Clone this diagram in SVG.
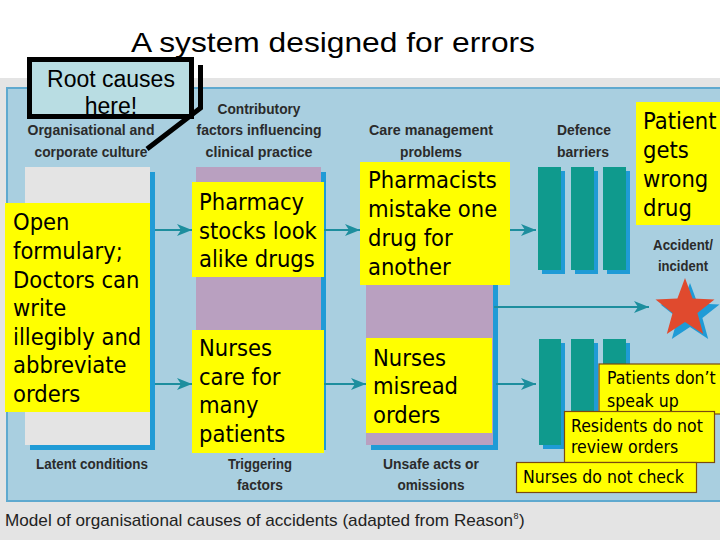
<svg xmlns="http://www.w3.org/2000/svg" width="720" height="540" viewBox="0 0 720 540">
<style>
.hdr{font-family:"Liberation Sans",Arial,sans-serif;font-weight:bold;font-size:14.5px;fill:#2b2b2b;text-anchor:middle}
.yl{fill:#ffff00}
.yt{font-family:"DejaVu Sans Condensed","DejaVu Sans",sans-serif;font-stretch:condensed;font-size:23.5px;fill:#000}
.st{font-family:"DejaVu Sans Condensed","DejaVu Sans",sans-serif;font-stretch:condensed;font-size:17.5px;fill:#000}
.sb{fill:#ffff00;stroke:#7a4a10;stroke-width:1.2}
.shadow{fill:#1f9bd6}
.bar{fill:#0f9a8d}
.conn{stroke:#1d8e9e;stroke-width:2;fill:none;marker-end:url(#ah)}
</style>
<defs>
<marker id="ah" markerUnits="userSpaceOnUse" markerWidth="16" markerHeight="12" refX="15" refY="6" orient="auto">
<path d="M0,0 L15,6 L0,12 L4,6 z" fill="#1d8e9e"/>
</marker>
</defs>
<rect x="0" y="0" width="720" height="540" fill="#ffffff"/>
<rect x="0" y="78" width="720" height="462" fill="#e4e4e4"/>
<rect x="7" y="88" width="716" height="413" fill="#a9cfe0" stroke="#5fa9cf" stroke-width="2"/>
<text x="131" y="52" font-family="Liberation Sans,Arial,sans-serif" font-size="28" textLength="404" lengthAdjust="spacingAndGlyphs" fill="#000">A system designed for errors</text>
<g id="headers">
<text class="hdr" x="91" y="135" textLength="127" lengthAdjust="spacingAndGlyphs">Organisational and</text>
<text class="hdr" x="91" y="157" textLength="113" lengthAdjust="spacingAndGlyphs">corporate culture</text>
<text class="hdr" x="259" y="114" textLength="83" lengthAdjust="spacingAndGlyphs">Contributory</text>
<text class="hdr" x="259" y="135" textLength="125" lengthAdjust="spacingAndGlyphs">factors influencing</text>
<text class="hdr" x="259" y="157" textLength="107" lengthAdjust="spacingAndGlyphs">clinical practice</text>
<text class="hdr" x="431" y="135" textLength="124" lengthAdjust="spacingAndGlyphs">Care management</text>
<text class="hdr" x="431" y="157" textLength="62" lengthAdjust="spacingAndGlyphs">problems</text>
<text class="hdr" x="584" y="135" textLength="54" lengthAdjust="spacingAndGlyphs">Defence</text>
<text class="hdr" x="583" y="157" textLength="52" lengthAdjust="spacingAndGlyphs">barriers</text>
<text class="hdr" x="683" y="250" textLength="60" lengthAdjust="spacingAndGlyphs">Accident/</text>
<text class="hdr" x="683" y="271" textLength="50" lengthAdjust="spacingAndGlyphs">incident</text>
<text class="hdr" x="92" y="469" textLength="112" lengthAdjust="spacingAndGlyphs">Latent conditions</text>
<text class="hdr" x="260" y="469" textLength="64" lengthAdjust="spacingAndGlyphs">Triggering</text>
<text class="hdr" x="260" y="490" textLength="46" lengthAdjust="spacingAndGlyphs">factors</text>
<text class="hdr" x="431" y="469" textLength="96" lengthAdjust="spacingAndGlyphs">Unsafe acts or</text>
<text class="hdr" x="431" y="490" textLength="67" lengthAdjust="spacingAndGlyphs">omissions</text>
</g>
<g id="col-latent">
<rect class="shadow" x="30" y="172" width="125" height="278"/>
<rect x="25" y="167" width="125" height="278" fill="#e4e4e4"/>
</g>
<g id="col-triggering">
<rect class="shadow" x="201" y="172" width="125" height="278"/>
<rect x="196" y="167" width="125" height="278" fill="#b9a0c0"/>
</g>
<g id="col-unsafe">
<rect class="shadow" x="371" y="172" width="127" height="278"/>
<rect x="366" y="167" width="127" height="278" fill="#b9a0c0"/>
</g>
<g id="barriers-top">
<rect class="shadow" x="542" y="171" width="23" height="103"/>
<rect class="shadow" x="575" y="171" width="23" height="103"/>
<rect class="shadow" x="607" y="171" width="23" height="103"/>
<rect class="bar" x="538" y="167" width="23" height="103"/>
<rect class="bar" x="571" y="167" width="23" height="103"/>
<rect class="bar" x="603" y="167" width="23" height="103"/>
</g>
<g id="barriers-bottom">
<rect class="shadow" x="543" y="343" width="22" height="106"/>
<rect class="shadow" x="575" y="343" width="23" height="106"/>
<rect class="shadow" x="607" y="343" width="23" height="106"/>
<rect class="bar" x="539" y="339" width="22" height="106"/>
<rect class="bar" x="571" y="339" width="23" height="106"/>
<rect class="bar" x="603" y="339" width="23" height="106"/>
</g>
<g id="star">
<polygon transform="translate(5,5)" fill="#1f9bd6" points="685,278 692.6,298.5 714.5,299.4 697.4,313 703.2,334.1 685,322 666.8,334.1 672.6,313 655.5,299.4 677.4,298.5"/>
<polygon fill="#e04a2e" points="685,278 692.6,298.5 714.5,299.4 697.4,313 703.2,334.1 685,322 666.8,334.1 672.6,313 655.5,299.4 677.4,298.5"/>
</g>
<g id="connectors">
<line class="conn" x1="155" y1="230" x2="192" y2="230"/>
<line class="conn" x1="324" y1="230" x2="360" y2="230"/>
<line class="conn" x1="510" y1="230" x2="536" y2="230"/>
<line class="conn" x1="155" y1="384" x2="192" y2="384"/>
<line class="conn" x1="324" y1="384" x2="366" y2="384"/>
<line class="conn" x1="496" y1="384" x2="536" y2="384"/>
<line class="conn" x1="494" y1="307" x2="649" y2="307"/>
</g>
<g id="open-formulary">
<rect class="yl" x="5" y="203" width="145" height="209"/>
<text class="yt" x="13"><tspan x="13" y="230">Open</tspan><tspan x="13" y="259">formulary;</tspan><tspan x="13" y="288">Doctors can</tspan><tspan x="13" y="316">write</tspan><tspan x="13" y="345">illegibly and</tspan><tspan x="13" y="373">abbreviate</tspan><tspan x="13" y="402">orders</tspan></text>
</g>
<g id="pharmacy-stocks">
<rect class="yl" x="192" y="182" width="132" height="95"/>
<text class="yt"><tspan x="199" y="210">Pharmacy</tspan><tspan x="199" y="239">stocks look</tspan><tspan x="199" y="267">alike drugs</tspan></text>
</g>
<g id="nurses-care">
<rect class="yl" x="192" y="330" width="132" height="123"/>
<text class="yt"><tspan x="199" y="356">Nurses</tspan><tspan x="199" y="385">care for</tspan><tspan x="199" y="413">many</tspan><tspan x="199" y="442">patients</tspan></text>
</g>
<g id="pharmacists-mistake">
<rect class="yl" x="360" y="162" width="150" height="123"/>
<text class="yt"><tspan x="368" y="188">Pharmacists</tspan><tspan x="368" y="217">mistake one</tspan><tspan x="368" y="246">drug for</tspan><tspan x="368" y="275">another</tspan></text>
</g>
<g id="nurses-misread">
<rect class="yl" x="366" y="338" width="126" height="95"/>
<text class="yt"><tspan x="373" y="366">Nurses</tspan><tspan x="373" y="394">misread</tspan><tspan x="373" y="423">orders</tspan></text>
</g>
<g id="patient-wrong-drug">
<rect class="yl" x="636" y="102" width="84" height="123"/>
<text class="yt"><tspan x="643" y="129">Patient</tspan><tspan x="643" y="158">gets</tspan><tspan x="643" y="187">wrong</tspan><tspan x="643" y="216">drug</tspan></text>
</g>
<g id="patients-dont-speak">
<rect class="sb" x="599" y="364" width="125" height="50"/>
<text class="st"><tspan x="607" y="384">Patients don’t</tspan><tspan x="607" y="407">speak up</tspan></text>
</g>
<g id="residents-review">
<rect class="sb" x="564.5" y="411.5" width="150" height="51"/>
<text class="st"><tspan x="571" y="432">Residents do not</tspan><tspan x="571" y="453">review orders</tspan></text>
</g>
<g id="nurses-check">
<rect class="sb" x="516.5" y="462.5" width="180" height="30"/>
<text class="st" x="523" y="483">Nurses do not check</text>
</g>
<g id="root-causes">
<polyline points="200.5,65 200.5,108 147,149" fill="none" stroke="#000" stroke-width="5"/>
<rect x="29.5" y="59.5" width="162" height="57" fill="#b9dde3" stroke="#000" stroke-width="5"/>
<text font-family="Liberation Sans,Arial,sans-serif" font-size="23" text-anchor="middle" fill="#000"><tspan x="111" y="87">Root causes</tspan><tspan x="111" y="114">here!</tspan></text>
</g>
<g id="caption">
<text x="5" y="526" font-family="Liberation Sans,Arial,sans-serif" font-size="17" fill="#222" textLength="508" lengthAdjust="spacingAndGlyphs">Model of organisational causes of accidents (adapted from Reason</text>
<text x="513.5" y="519" font-family="Liberation Sans,Arial,sans-serif" font-size="9" fill="#222">8</text>
<text x="519" y="526" font-family="Liberation Sans,Arial,sans-serif" font-size="17" fill="#222">)</text>
</g>
</svg>
